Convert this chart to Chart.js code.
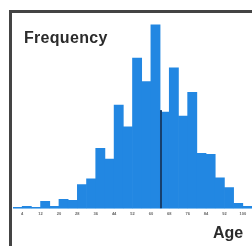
<!DOCTYPE html>
<html>
<head>
<meta charset="utf-8">
<script src="https://cdn.jsdelivr.net/npm/chart.js@4"></script>
<style>
  body { margin: 0; background: #fff; width: 252px; height: 246px; overflow: hidden; position: relative; font-family: "Liberation Sans", Arial, sans-serif; }
  #frame { position: absolute; left: 9px; top: 10px; width: 260px; height: 260px; border-left: 3px solid #444; border-top: 3px solid #444; }
  #wrap { position: absolute; left: 12px; top: 12px; width: 240px; height: 234px; }
  .lbl { position: absolute; font-weight: bold; font-size: 16px; line-height: 16px; color: #2b2b2b; }
  #ylabel { left: 24px; top: 30px; letter-spacing: 0.3px; }
  #xlabel { left: 213px; top: 225px; }
</style>
</head>
<body>
<div id="frame"></div>
<div id="wrap"><canvas id="myChart"></canvas></div>
<div class="lbl" id="ylabel">Frequency</div>
<div class="lbl" id="xlabel">Age</div>
<script>
// age bins (4 years wide), start of each bin
const binStarts = [0, 4, 8, 12, 16, 20, 24, 28, 32, 36, 40, 44, 48, 52, 56, 60, 64, 68, 72, 76, 80, 84, 88, 92, 96, 100];
const binWidth = 4;
// frequency per bin
const frequencies = [1, 2, 1, 7, 2, 9, 8, 24, 30, 61, 50, 105, 83, 153, 129, 187, 98, 143, 94, 118, 56, 55, 31, 21, 5, 2];
// tick marks along the age axis
const tickValues = [4, 12, 20, 28, 36, 44, 52, 60, 68, 76, 84, 92, 100];
// vertical marker line
const meanAge = 64.4;
const meanLineTop = 100;

const points = binStarts.map((s, i) => ({ x: s + binWidth / 2, y: frequencies[i] }));

const meanLine = {
  id: 'meanLine',
  afterDatasetsDraw(chart) {
    const ctx = chart.ctx;
    const x = chart.scales.x.getPixelForValue(meanAge);
    const y0 = chart.scales.y.getPixelForValue(0);
    const y1 = chart.scales.y.getPixelForValue(meanLineTop);
    ctx.save();
    ctx.strokeStyle = '#163f6e';
    ctx.lineWidth = 2;
    ctx.beginPath();
    ctx.moveTo(x, y0);
    ctx.lineTo(x, y1);
    ctx.stroke();
    ctx.restore();
  }
};

const ctx = document.getElementById('myChart').getContext('2d');
const myChart = new Chart(ctx, {
  type: 'bar',
  data: {
    datasets: [{
      data: points,
      backgroundColor: '#2287e2',
      borderWidth: 0,
      barPercentage: 1,
      categoryPercentage: 1,
    }],
  },
  options: {
    responsive: true,
    maintainAspectRatio: false,
    animation: false,
    layout: { padding: { left: 1, right: 0, top: 0, bottom: 27 } },
    plugins: { legend: { display: false }, tooltip: { enabled: false } },
    scales: {
      x: {
        type: 'linear',
        offset: false,
        min: 0,
        max: 104,
        grid: { display: false, drawTicks: false },
        border: { display: true, color: '#93c6f0', width: 1 },
        afterBuildTicks: (axis) => { axis.ticks = tickValues.map(v => ({ value: v })); },
        ticks: { font: { size: 4, weight: 'bold' }, color: '#666', padding: 3, maxRotation: 0, autoSkip: false },
      },
      y: {
        display: false,
        min: 0,
        max: 200,
      },
    },
  },
  plugins: [meanLine],
});
</script>
</body>
</html>
